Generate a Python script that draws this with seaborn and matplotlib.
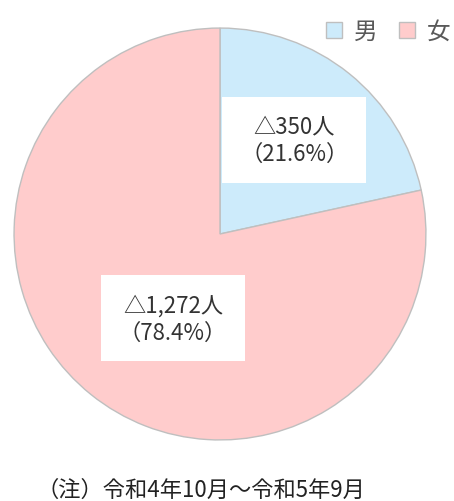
import matplotlib
matplotlib.use('Agg')
import matplotlib.pyplot as plt
import seaborn as sns

# data
sexes = ['男', '女']
counts = [350, 1272]
shares = [21.6, 78.4]
colors = ['#CDEBFB', '#FFCCCC']
label_pos = [(0.36, 0.457), (-0.228, -0.41)]
note = '（注）令和4年10月～令和5年9月'

sns.set_theme(style='white')
plt.rcParams['font.family'] = ['Noto Sans CJK JP', 'DejaVu Sans']

fig = plt.figure(figsize=(4.54, 5.02), dpi=100)
ax = fig.add_axes([12 / 454, 59 / 502, 416 / 454, 416 / 502])

wedges, _ = ax.pie(counts, colors=colors, startangle=90, counterclock=False,
                   radius=1.0, wedgeprops=dict(edgecolor='#BFBFBF', linewidth=1.0))
ax.set_xlim(-1.01, 1.01)
ax.set_ylim(-1.01, 1.01)
ax.set_aspect('equal')
ax.axis('off')

for n, p, (x, y) in zip(counts, shares, label_pos):
    ax.text(x, y, f'△{n:,}人\n（{p}%）', ha='center', va='center',
            fontsize=16, color='#333333', linespacing=1.25,
            bbox=dict(boxstyle='square,pad=0.8', facecolor='white', edgecolor='none'))

fig.legend(wedges, sexes, loc='upper right', bbox_to_anchor=(1.04, 1.0), ncol=2,
           frameon=False, fontsize=17, handlelength=0.7, handleheight=0.7,
           handletextpad=0.5, columnspacing=0.9, labelcolor='#595959')

fig.text(36 / 454, 12 / 502, note, ha='left', va='center', fontsize=16, color='#222222')

fig.savefig('out.png', dpi=100)
